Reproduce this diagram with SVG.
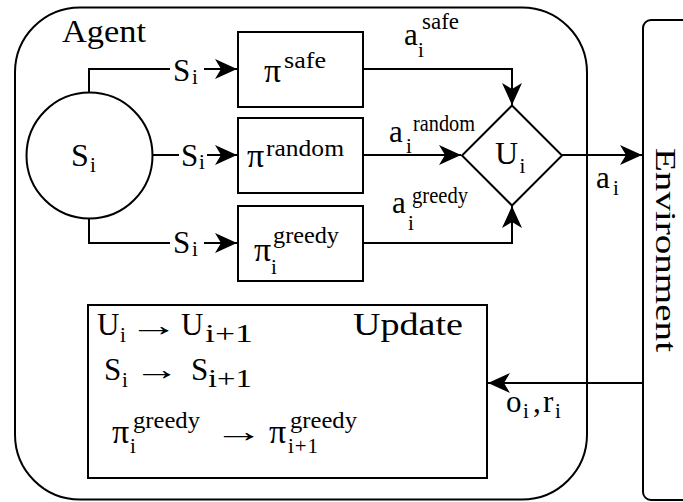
<svg xmlns="http://www.w3.org/2000/svg" width="683" height="502" viewBox="0 0 683 502" font-family="Liberation Serif, Times New Roman, Tinos, serif">
<style>
.s{fill:none;stroke:#000;stroke-width:2}
.b{fill:#fff;stroke:#000;stroke-width:2}
.t{font-size:31px}
.p{font-size:34px}
.sm{font-size:21px}
.sp{font-size:23px}
.sb{font-size:25px}
</style>
<defs>
<marker id="arr" viewBox="0 0 22 20" refX="22" refY="10" markerWidth="22" markerHeight="20" markerUnits="userSpaceOnUse" orient="auto">
<path d="M0,0 L22,10 L0,20 L6,10 Z" fill="#000"/>
</marker>
</defs>
<rect width="683" height="502" fill="#fff"/>
<g id="agent">
<rect class="s" x="15" y="7.5" width="572" height="492" rx="65" ry="65"/>
<text class="t" x="62" y="42" textLength="84" lengthAdjust="spacingAndGlyphs">Agent</text>
</g>
<g id="environment">
<rect class="s" x="643" y="20" width="70" height="480" rx="8" ry="8"/>
<text font-size="29" transform="translate(656,250) rotate(90)" text-anchor="middle" textLength="204" lengthAdjust="spacingAndGlyphs">Environment</text>
</g>
<g id="connectors">
<path class="s" d="M89,93 V69 H237" marker-end="url(#arr)"/>
<path class="s" d="M152.5,155 H237" marker-end="url(#arr)"/>
<path class="s" d="M89,218 V243 H237" marker-end="url(#arr)"/>
<path class="s" d="M363,69 H512 V105" marker-end="url(#arr)"/>
<path class="s" d="M363,155 H461" marker-end="url(#arr)"/>
<path class="s" d="M363,243 H512 V206" marker-end="url(#arr)"/>
<path class="s" d="M562,155 H642" marker-end="url(#arr)"/>
<path class="s" d="M643,383 H488" marker-end="url(#arr)"/>
<path class="s" d="M587,72 V430"/>
</g>
<g id="labels">
<rect x="170" y="58" width="34" height="26" fill="#fff"/>
<text class="t" x="173" y="81">S</text><text class="sm" x="192" y="84">i</text>
<rect x="179" y="144" width="28" height="26" fill="#fff"/>
<text class="t" x="181" y="166">S</text><text class="sm" x="199" y="169">i</text>
<rect x="170" y="232" width="34" height="26" fill="#fff"/>
<text class="t" x="173" y="253">S</text><text class="sm" x="192" y="256">i</text>
<text class="t" x="404" y="45">a</text><text class="sm" x="418" y="57">i</text><text class="sp" x="422" y="29" textLength="37" lengthAdjust="spacingAndGlyphs">safe</text>
<text class="t" x="389" y="142">a</text><text class="sm" x="406" y="153">i</text><text class="sp" x="413" y="131" textLength="62" lengthAdjust="spacingAndGlyphs">random</text>
<text class="t" x="392" y="213">a</text><text class="sm" x="408" y="230">i</text><text class="sp" x="412" y="203" textLength="56" lengthAdjust="spacingAndGlyphs">greedy</text>
<text class="t" x="596" y="188">a</text><text class="sm" x="613" y="195">i</text>
<text class="t" x="506" y="412">o</text><text class="sm" x="523" y="418">i</text><text class="t" x="533" y="412">,</text><text class="t" x="543" y="412">r</text><text class="sm" x="555" y="418">i</text>
</g>
<g id="state">
<circle class="b" cx="89.5" cy="155.5" r="63"/>
<text font-size="32" x="71" y="166">S</text><text class="sm" x="90" y="172">i</text>
</g>
<g id="pi-safe">
<rect class="b" x="238" y="32" width="125" height="75"/>
<text class="p" x="264" y="82">π</text><text class="sp" x="284" y="68" textLength="42" lengthAdjust="spacingAndGlyphs">safe</text>
</g>
<g id="pi-random">
<rect class="b" x="238" y="118" width="125" height="75"/>
<text class="p" x="247" y="167">π</text><text class="sp" x="266" y="156" textLength="78" lengthAdjust="spacingAndGlyphs">random</text>
</g>
<g id="pi-greedy">
<rect class="b" x="238" y="206" width="125" height="75"/>
<text class="p" x="254" y="261">π</text><text class="sp" x="273" y="243" textLength="66" lengthAdjust="spacingAndGlyphs">greedy</text><text class="sm" x="271" y="274">i</text>
</g>
<g id="utility">
<polygon class="b" points="512,105.5 562,155.5 512,205.5 462,155.5"/>
<text font-size="32" x="495" y="164">U</text><text class="sm" x="519.5" y="173">i</text>
</g>
<g id="update">
<rect class="b" x="88" y="305" width="399" height="173"/>
<text class="t" x="353" y="335" textLength="110" lengthAdjust="spacingAndGlyphs">Update</text>
<text class="t" x="97" y="335">U</text><text class="sm" x="120" y="342">i</text>
<text class="t" x="129" y="336" textLength="50" lengthAdjust="spacingAndGlyphs">→</text>
<text class="t" x="181" y="335">U</text><text class="sb" x="205" y="342" textLength="48" lengthAdjust="spacingAndGlyphs">i+1</text>
<text class="t" x="104" y="380">S</text><text class="sm" x="122" y="387">i</text>
<text class="t" x="134" y="380" textLength="46" lengthAdjust="spacingAndGlyphs">→</text>
<text class="t" x="191" y="380">S</text><text class="sb" x="208" y="387" textLength="44" lengthAdjust="spacingAndGlyphs">i+1</text>
<text class="p" x="112" y="443">π</text><text class="sp" x="133" y="428" textLength="67" lengthAdjust="spacingAndGlyphs">greedy</text><text class="sm" x="130" y="453">i</text>
<text class="t" x="214" y="442" textLength="50" lengthAdjust="spacingAndGlyphs">→</text>
<text class="p" x="269" y="443">π</text><text class="sp" x="290" y="428" textLength="67" lengthAdjust="spacingAndGlyphs">greedy</text><text class="sm" x="288" y="453" textLength="30" lengthAdjust="spacing">i+1</text>
</g>
</svg>
